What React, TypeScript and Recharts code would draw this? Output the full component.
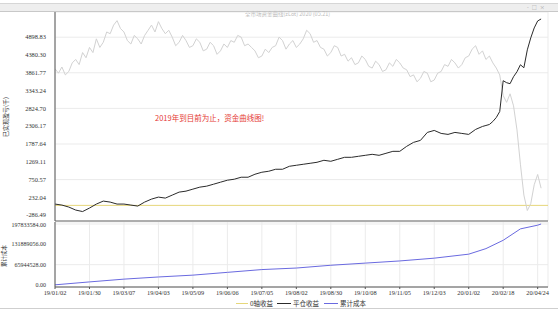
import { LineChart, Line, XAxis, YAxis, CartesianGrid, ReferenceLine } from 'recharts'

// trading-day index of each 平仓收益 sample
const DAYS = [
  0, 4, 8, 12, 16, 20, 24, 28, 32, 36, 40, 44, 48, 52, 56, 60, 64, 68, 72, 76,
  80, 84, 88, 92, 96, 100, 104, 108, 112, 116, 120, 124, 128, 132, 136, 140, 144, 148, 152, 156,
  160, 164, 168, 172, 176, 180, 184, 188, 192, 196, 200, 204, 208, 212, 216, 220, 224, 228, 232, 236,
  240, 244, 248, 250, 252, 254, 256, 258, 260, 262, 264, 266, 268, 270, 272, 274, 276, 278, 280, 282,
]

// 平仓收益
const CLOSE_PROFIT = [
  38, 9, -49, -136, -180, -78, 38, 125, 96, 38, 38, 9, -20, 96, 183, 241, 212, 299, 386, 415,
  473, 531, 560, 617, 675, 733, 762, 820, 820, 907, 965, 994, 1052, 1052, 1139, 1168, 1197, 1226, 1255, 1313,
  1284, 1342, 1400, 1400, 1429, 1458, 1487, 1458, 1516, 1574, 1574, 1719, 1835, 1893, 2125, 2183, 2096, 2067, 2125, 2096,
  2067, 2212, 2299, 2327, 2356, 2443, 2559, 2733, 3631, 3573, 3544, 3747, 3892, 4095, 4008, 4530, 4878, 5168, 5371, 5429,
]

// faint grey reference curve, one sample every 2 trading days (day 0..282)
const REF_CURVE = [
  3980, 3850, 4030, 3800, 3900, 4150, 4250, 4100, 4450, 4300, 4600, 4450, 4850, 4600, 4750, 5050, 5000, 5250, 5380, 5150,
  5050, 4800, 4700, 4950, 4850, 4700, 4950, 5100, 5250, 5050, 5350, 5150, 5000, 5100, 4900, 4650, 4750, 4950, 4800, 4600,
  4650, 4850, 4750, 4500, 4550, 4750, 4650, 4400, 4500, 4700, 4600, 4800, 4750, 4950, 4900, 4650, 4700, 4600, 4500, 4300,
  4350, 4550, 4450, 4600, 4650, 4900, 4800, 4550, 4700, 4800, 4600, 4700, 4850, 5100, 5000, 4750, 4800, 4600, 4550, 4350,
  4450, 4650, 4600, 4350, 4400, 4200, 4300, 4100, 4150, 4350, 4250, 4050, 4000, 4200, 4100, 3900, 3950, 4150, 4050, 4250,
  4150, 4000, 3950, 3750, 3800, 3600, 3700, 3900, 3850, 3600, 3650, 3850, 3900, 4100, 4050, 4250, 4150, 4000, 4100, 4300,
  4350, 4550, 4650, 4400, 4500, 4250, 4350, 4150, 4000, 3800, 3200, 3000, 3250, 2900, 2200, 1200, 300, -150, 50, 600,
  900, 500,
]

// 累计成本
const COST_DAYS = [0, 20, 40, 60, 80, 100, 120, 140, 160, 180, 200, 220, 240, 250, 260, 270, 280, 282]
const COST = [
  500000, 10000000, 19000000, 26000000, 32000000, 41000000, 50000000, 55000000, 64000000,
  71000000, 78000000, 87000000, 100000000, 118000000, 145000000, 182000000, 194000000, 197833584,
]

const DATE_TICKS = [0, 20, 40, 60, 80, 100, 120, 140, 160, 180, 200, 220, 240, 260, 280]
const DATE_LABELS = [
  '19/01/02', '19/01/30', '19/03/07', '19/04/03', '19/05/09', '19/06/06', '19/07/05', '19/08/02',
  '19/08/30', '19/10/08', '19/11/05', '19/12/03', '20/01/02', '20/02/18', '20/04/24',
]

const PROFIT_TICKS = [-286.49, 232.04, 750.57, 1269.11, 1787.64, 2306.17, 2824.7, 3343.24, 3861.77, 4380.3, 4898.83]
const COST_TICKS = [0, 65944528, 131889056, 197833584]

const closeData = DAYS.map((d, i) => ({ day: d, close: CLOSE_PROFIT[i] }))
const refData = REF_CURVE.map((v, i) => ({ day: i * 2, ref: v }))
const costData = COST_DAYS.map((d, i) => ({ day: d, cost: COST[i] }))

const tickStyle = { fontSize: 6.4, fill: '#333', fontFamily: 'Liberation Serif, serif' }
const costTickStyle = { ...tickStyle, fontSize: 6 }
const cjk = '"Noto Sans CJK SC", sans-serif'

function dateLabel(v: number) {
  const i = DATE_TICKS.indexOf(v)
  return i >= 0 ? DATE_LABELS[i] : ''
}

export default function App() {
  return (
    <div style={{ position: 'absolute', left: 0, top: 0, width: 558, height: 312, background: '#fff', overflow: 'hidden', fontFamily: cjk }}>
      {/* window title bar */}
      <div style={{ position: 'absolute', left: 0, top: 3, width: 558, height: 7, background: '#eeeeee', borderTop: '1px solid #d6d6d6', borderBottom: '1px solid #c8c8c8' }} />
      <div style={{ position: 'absolute', left: 527, top: 3, fontSize: 5, lineHeight: '7px', color: '#999', letterSpacing: 3, whiteSpace: 'nowrap' }}>-□×</div>
      <div style={{ position: 'absolute', left: 245, top: 10, fontSize: 5.5, color: '#bbb', whiteSpace: 'nowrap' }}>全市场资金曲线(zLot) 2020 (05.21)</div>

      <div style={{ position: 'absolute', left: 0, top: 12 }}>
        <LineChart width={558} height={210} margin={{ top: 0, right: 10, bottom: 0, left: 0 }}>
          <CartesianGrid stroke="#ebebeb" />
          <XAxis type="number" dataKey="day" domain={[0, 286]} ticks={DATE_TICKS} allowDataOverflow
            tick={false} tickLine={false} height={1} axisLine={{ stroke: '#666' }} />
          <YAxis type="number" domain={[-455, 5632]} ticks={PROFIT_TICKS} allowDataOverflow width={55}
            tick={tickStyle} tickLine={false} tickMargin={3} axisLine={{ stroke: '#555' }}
            tickFormatter={(v: number) => v.toFixed(2)} />
          <ReferenceLine y={0} stroke="#e6d77a" strokeWidth={1} />
          <Line data={refData} type="linear" dataKey="ref" stroke="#d2d2d2" strokeWidth={1} dot={false} isAnimationActive={false} />
          <Line data={closeData} type="linear" dataKey="close" stroke="#2b2b2b" strokeWidth={1} dot={false} isAnimationActive={false} />
        </LineChart>
      </div>

      <div style={{ position: 'absolute', left: 0, top: 222 }}>
        <LineChart width={558} height={77} data={costData} margin={{ top: 0, right: 10, bottom: 0, left: 0 }}>
          <CartesianGrid stroke="#ebebeb" />
          <XAxis type="number" dataKey="day" domain={[0, 286]} ticks={DATE_TICKS} allowDataOverflow height={12}
            tick={tickStyle} tickSize={2} tickMargin={1} tickLine={{ stroke: '#555' }} axisLine={{ stroke: '#555' }}
            tickFormatter={dateLabel} interval={0} />
          <YAxis type="number" domain={[-6500000, 204300000]} ticks={COST_TICKS} allowDataOverflow width={55}
            tick={costTickStyle} tickLine={false} tickMargin={3} axisLine={{ stroke: '#555' }}
            tickFormatter={(v: number) => v.toFixed(2)} />
          <Line type="linear" dataKey="cost" stroke="#6a6ae0" strokeWidth={1} dot={false} isAnimationActive={false} />
        </LineChart>
      </div>

      {/* axis titles */}
      <div style={{ position: 'absolute', left: 5, top: 117, transform: 'translate(-50%, -50%) rotate(-90deg)', fontSize: 6, color: '#333', whiteSpace: 'nowrap' }}>已实现盈亏(千)</div>
      <div style={{ position: 'absolute', left: 4, top: 256, transform: 'translate(-50%, -50%) rotate(-90deg)', fontSize: 5.5, color: '#333', whiteSpace: 'nowrap' }}>累计成本</div>

      <div style={{ position: 'absolute', left: 155, top: 112, fontSize: 7.5, color: '#e53935', whiteSpace: 'nowrap' }}>2019年到目前为止，资金曲线图!</div>

      {/* legend */}
      <div style={{ position: 'absolute', left: 236, top: 298, display: 'flex', alignItems: 'center', fontSize: 6.5, color: '#333', whiteSpace: 'nowrap' }}>
        <span style={{ width: 12, height: 1, background: '#e6d77a', marginRight: 2 }} />
        <span style={{ marginRight: 4 }}>0轴收益</span>
        <span style={{ width: 14, height: 1, background: '#2b2b2b', marginRight: 2 }} />
        <span style={{ marginRight: 5 }}>平仓收益</span>
        <span style={{ width: 14, height: 1, background: '#6a6ae0', marginRight: 2 }} />
        <span>累计成本</span>
      </div>

      <div style={{ position: 'absolute', left: 0, top: 308, width: 558, height: 1, background: '#cfcfcf' }} />
    </div>
  )
}
